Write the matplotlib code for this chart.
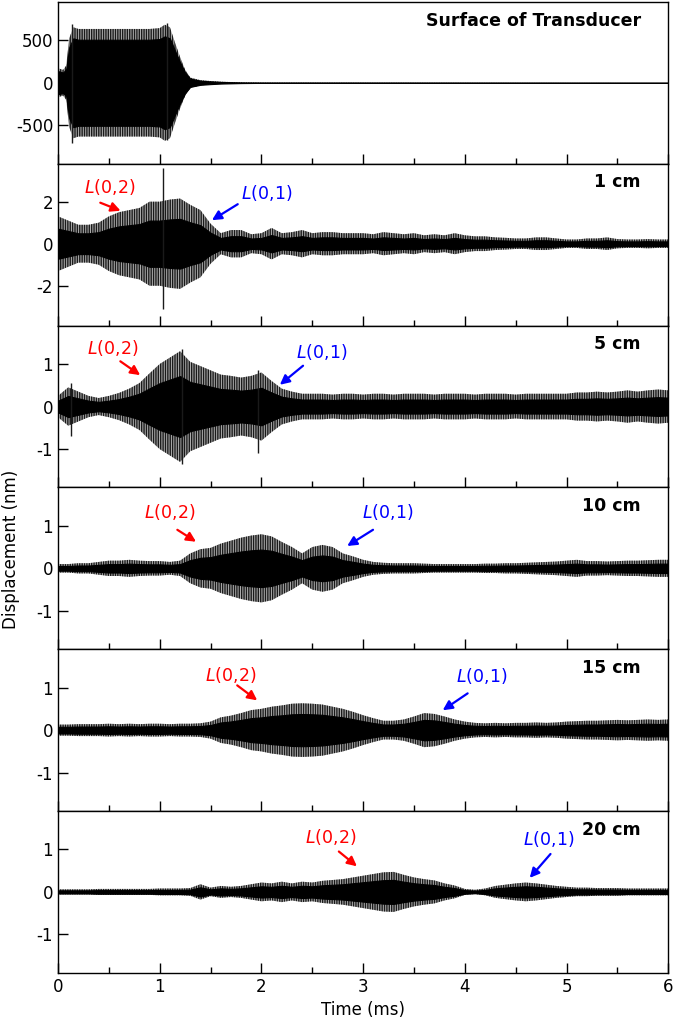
import numpy as np
from matplotlib import pyplot as plt
from matplotlib.ticker import MultipleLocator

plt.rcParams["font.family"] = "DejaVu Sans"
plt.rcParams["axes.unicode_minus"] = False
plt.rcParams["hatch.linewidth"] = 1.0

# ---- envelope amplitudes ----
t_grid = np.linspace(0, 6, 61)  # 0.1 ms sampling

# surface of transducer (finer sampling around the burst edges)
t_surf = [0, 0.05, 0.08, 0.11, 0.15, 0.2, 0.3, 0.4, 0.5, 0.6, 0.7, 0.8, 0.9, 1.0,
          1.05, 1.1, 1.15, 1.2, 1.25, 1.3, 1.4, 1.5, 1.6, 1.8, 2.0, 6.0]
env_surf = [170, 150, 200, 520, 650, 630, 630, 630, 630, 630, 630, 630, 630, 640,
            680, 650, 470, 300, 150, 60, 30, 20, 12, 5, 2, 0]

env_1cm = [1.3, 1.1, 0.9, 0.9, 1.0, 1.3, 1.5, 1.6, 1.7, 2.0,
           2.0, 2.1, 2.15, 1.85, 1.6, 0.95, 0.5, 0.65, 0.65, 0.45,
           0.5, 0.75, 0.5, 0.55, 0.65, 0.5, 0.55, 0.55, 0.5, 0.5,
           0.5, 0.45, 0.55, 0.5, 0.45, 0.5, 0.4, 0.45, 0.4, 0.5,
           0.4, 0.35, 0.35, 0.3, 0.28, 0.25, 0.25, 0.3, 0.3, 0.25,
           0.2, 0.2, 0.25, 0.25, 0.3, 0.22, 0.2, 0.2, 0.22, 0.2, 0.2]

env_5cm = [0.25, 0.45, 0.35, 0.25, 0.2, 0.25, 0.32, 0.42, 0.55, 0.78,
           1.0, 1.15, 1.3, 1.05, 0.95, 0.85, 0.75, 0.72, 0.68, 0.72,
           0.8, 0.6, 0.42, 0.35, 0.3, 0.3, 0.3, 0.28, 0.3, 0.3,
           0.28, 0.3, 0.3, 0.28, 0.3, 0.3, 0.3, 0.28, 0.3, 0.3,
           0.3, 0.28, 0.3, 0.3, 0.3, 0.28, 0.3, 0.3, 0.3, 0.3,
           0.3, 0.33, 0.33, 0.35, 0.33, 0.35, 0.38, 0.35, 0.38, 0.4, 0.38]

env_10cm = [0.1, 0.1, 0.12, 0.12, 0.15, 0.18, 0.18, 0.2, 0.18, 0.17,
            0.17, 0.15, 0.18, 0.35, 0.45, 0.48, 0.58, 0.65, 0.72, 0.77,
            0.8, 0.75, 0.62, 0.5, 0.35, 0.5, 0.55, 0.5, 0.35, 0.28,
            0.2, 0.15, 0.13, 0.12, 0.12, 0.12, 0.11, 0.1, 0.1, 0.1,
            0.1, 0.1, 0.11, 0.11, 0.12, 0.12, 0.13, 0.14, 0.15, 0.16,
            0.18, 0.2, 0.17, 0.17, 0.16, 0.17, 0.18, 0.18, 0.19, 0.2, 0.2]

env_15cm = [0.13, 0.13, 0.14, 0.14, 0.14, 0.15, 0.14, 0.15, 0.14, 0.15,
            0.15, 0.14, 0.15, 0.15, 0.16, 0.2, 0.3, 0.34, 0.4, 0.47,
            0.5, 0.55, 0.58, 0.62, 0.63, 0.62, 0.6, 0.55, 0.5, 0.43,
            0.35, 0.28, 0.22, 0.22, 0.25, 0.32, 0.4, 0.38, 0.32, 0.25,
            0.2, 0.17, 0.16, 0.17, 0.16, 0.17, 0.17, 0.18, 0.17, 0.18,
            0.2, 0.21, 0.22, 0.22, 0.23, 0.24, 0.23, 0.24, 0.25, 0.24, 0.25]

env_20cm = [0.06, 0.06, 0.06, 0.06, 0.07, 0.07, 0.07, 0.07, 0.07, 0.07,
            0.08, 0.08, 0.08, 0.09, 0.18, 0.1, 0.14, 0.12, 0.14, 0.18,
            0.22, 0.2, 0.24, 0.2, 0.24, 0.22, 0.26, 0.28, 0.3, 0.34,
            0.38, 0.42, 0.46, 0.47, 0.4, 0.34, 0.3, 0.27, 0.2, 0.15,
            0.07, 0.05, 0.08, 0.14, 0.17, 0.2, 0.22, 0.2, 0.17, 0.14,
            0.12, 0.1, 0.1, 0.09, 0.09, 0.09, 0.08, 0.08, 0.08, 0.08, 0.08]

# isolated spikes: (time, max, min)
spikes = [
    [(0.14, 690, -700), (1.07, 700, -670)],
    [(1.03, 3.6, -3.1)],
    [(0.13, 0.55, -0.7), (1.22, 1.35, -1.35), (1.97, 0.85, -1.1)],
    [],
    [],
    [],
]

labels = ["Surface of Transducer", "1 cm", "5 cm", "10 cm", "15 cm", "20 cm"]
ylims = [(-950, 945), (-3.9, 3.8), (-1.9, 1.9), (-1.9, 1.9), (-1.9, 1.9), (-1.9, 1.9)]
yticks = [[-500, 0, 500], [-2, 0, 2], [-1, 0, 1], [-1, 0, 1], [-1, 0, 1], [-1, 0, 1]]
core_frac = [0.8, 0.55, 0.55, 0.55, 0.6, 0.6]  # share of the swing drawn solid black

# mode markers: (text xy, arrow tail, arrow head) in data coords, None for top panel
L02 = [None, ((0.51, 2.7), (0.39, 2.0), (0.64, 1.52)),
       ((0.54, 1.37), (0.59, 1.1), (0.83, 0.7)),
       ((1.10, 1.32), (1.15, 0.94), (1.38, 0.59)),
       ((1.70, 1.30), (1.74, 1.09), (1.98, 0.66)),
       ((2.68, 1.30), (2.74, 0.99), (2.96, 0.56))]
L01 = [None, ((2.05, 2.4), (1.79, 1.95), (1.49, 1.05)),
       ((2.59, 1.27), (2.43, 1.0), (2.16, 0.47)),
       ((3.24, 1.32), (3.12, 0.94), (2.82, 0.49)),
       ((4.17, 1.28), (4.05, 0.9), (3.76, 0.43)),
       ((4.82, 1.25), (4.86, 0.94), (4.62, 0.28))]

times = [np.array(t_surf)] + [t_grid] * 5
envs = [env_surf, env_1cm, env_5cm, env_10cm, env_15cm, env_20cm]

fig, axes = plt.subplots(6, 1, figsize=(6.75, 10.36), dpi=100, sharex=True)
fig.subplots_adjust(left=0.086, right=0.99, top=0.998, bottom=0.061, hspace=0)

for i, ax in enumerate(axes):
    t = times[i]
    e = np.array(envs[i])
    # outer swing: dense vertical hatching mimics the unresolved oscillation
    ax.fill_between(t, -e, e, facecolor="#b0b0b0", edgecolor="#1a1a1a", hatch="|||||||", lw=0)
    ax.fill_between(t, -core_frac[i] * e, core_frac[i] * e, color="k", lw=0.8)
    for ts, hi, lo in spikes[i]:
        ax.vlines(ts, lo, hi, color="#1a1a1a", lw=1.0)

    ax.set_xlim(0, 6)
    ax.set_ylim(*ylims[i])
    ax.set_yticks(yticks[i])
    ax.xaxis.set_major_locator(MultipleLocator(1))
    ax.xaxis.set_minor_locator(MultipleLocator(0.5))
    ax.tick_params(axis="both", which="major", direction="in", length=7, width=1, labelsize=12)
    ax.tick_params(axis="x", which="minor", direction="in", length=4, width=1)
    for sp in ax.spines.values():
        sp.set_linewidth(1.0)
    ax.text(0.955, 0.885, labels[i], transform=ax.transAxes, ha="right", va="center",
            fontsize=12.5, fontweight="bold")

    if L02[i] is not None:
        txy, tail, head = L02[i]
        ax.text(txy[0], txy[1], "$L$(0,2)", color="red", fontsize=12.5, ha="center", va="center")
        ax.annotate("", xy=head, xytext=tail,
                    arrowprops=dict(arrowstyle="-|>", color="red", lw=1.6, mutation_scale=14))
        txy, tail, head = L01[i]
        ax.text(txy[0], txy[1], "$L$(0,1)", color="blue", fontsize=12.5, ha="center", va="center")
        ax.annotate("", xy=head, xytext=tail,
                    arrowprops=dict(arrowstyle="-|>", color="blue", lw=1.6, mutation_scale=14))

axes[-1].set_xlabel("Time (ms)", fontsize=12)
fig.text(0.017, 0.47, "Displacement (nm)", rotation=90, ha="center", va="center", fontsize=12)

fig.savefig("out.png", dpi=100)
